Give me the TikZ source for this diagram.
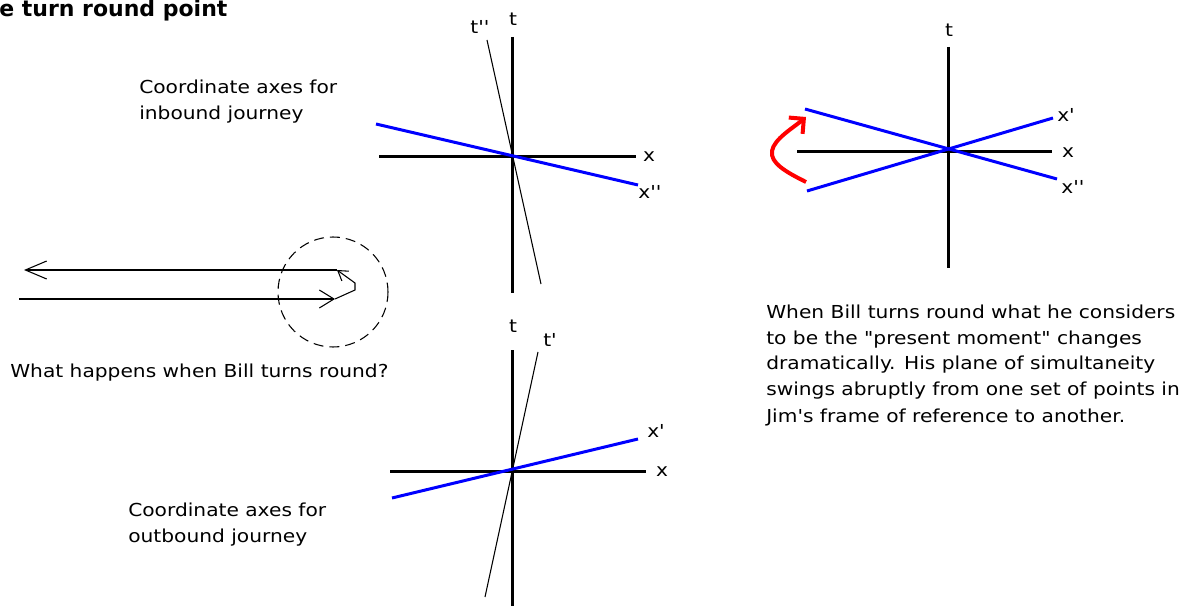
\documentclass[tikz,border=0pt]{standalone}
\usepackage{fontspec}
\usepackage{tikz}
\usetikzlibrary{positioning, arrows.meta, calc}
\newfontfamily\sketchfont[FakeStretch=1.13]{DejaVu Sans}
\newfontfamily\headfont{DejaVu Sans}
\definecolor{planeblue}{HTML}{0000FF}
\definecolor{swingred}{HTML}{FF0000}

\begin{document}
\begin{tikzpicture}[x=0.75pt, y=-0.75pt,
    axis/.style={line width=2.25pt},
    worldline/.style={line width=0.8pt},
    simline/.style={line width=2.25pt, draw=planeblue},
    journey/.style={line width=0.8pt},
    caption/.style={font=\sketchfont\fontsize{13.4}{19.5}\selectfont, align=left, inner sep=0pt, anchor=west},
    axlabel/.style={font=\sketchfont\fontsize{13.4}{15}\selectfont, inner sep=0pt},
    swing/.style={line width=3pt, draw=swingred, -{Straight Barb[length=8pt, width=16pt]}}
]
\useasboundingbox (0,0) rectangle (1193,606);

% Titel (abgeschnitten)
\node[font=\headfont\bfseries\fontsize{16.5}{19}\selectfont, inner sep=0pt, anchor=base west] (title) at (-1,17) {e turn round point};

% Koordinatenachsen, Rueckreise (oben)
\coordinate (Atn) at (512,37);  \coordinate (Ats) at (512,293);
\coordinate (Axw) at (379,157); \coordinate (Axe) at (636,157);
\coordinate (Atpn) at (487,40); \coordinate (Atps) at (541,284);
\coordinate (Axpw) at (376,124); \coordinate (Axpe) at (638,185);
\draw[axis] (Atn) -- (Ats);
\draw[axis] (Axw) -- (Axe);
\draw[worldline] (Atpn) -- (Atps);
\draw[simline] (Axpw) -- (Axpe);
\node[axlabel] (At) at (513,19) {t};
\node[axlabel] (Atp) at (480,27) {t''};
\node[axlabel] (Ax) at (649,157) {x};
\node[axlabel] (Axp) at (650,192) {x''};
\node[caption] (inbound) at (139,102) {Coordinate axes for\\inbound journey};

% Koordinatenachsen, Hinreise (unten)
\coordinate (Btn) at (512,350);  \coordinate (Bts) at (512,606);
\coordinate (Bxw) at (390,471);  \coordinate (Bxe) at (646,471);
\coordinate (Btpn) at (538,352); \coordinate (Btps) at (485,597);
\coordinate (Bxpw) at (392,498); \coordinate (Bxpe) at (638,439);
\draw[axis] (Btn) -- (Bts);
\draw[axis] (Bxw) -- (Bxe);
\draw[worldline] (Btpn) -- (Btps);
\draw[simline] (Bxpw) -- (Bxpe);
\node[axlabel] (Bt) at (513,326) {t};
\node[axlabel] (Btp) at (550,340) {t'};
\node[axlabel] (Bx) at (662,472) {x};
\node[axlabel] (Bxp) at (656,431) {x'};
\node[caption] (outbound) at (128,525) {Coordinate axes for\\outbound journey};

% Reise von Bill mit Umkehrpunkt
\coordinate (Rw) at (24,270);  \coordinate (Re) at (337,270);
\coordinate (Hw) at (19,299);  \coordinate (He) at (335,299);
\coordinate (turnA) at (355,290); \coordinate (turnB) at (355,283);
\coordinate (circ) at (333,292);
\draw[journey, {Straight Barb[length=16pt, width=13.5pt]}-] (Rw) -- (Re);
\draw[journey, -{Straight Barb[length=11pt, width=13.5pt]}] (Hw) -- (He);
\draw[journey, -{Straight Barb[length=7pt, width=9pt]}] (He) -- (turnA) -- (turnB) -- (Re);
\draw[journey, dash pattern=on 7.5pt off 4.5pt] (circ) circle[radius=55];
\node[caption] (question) at (10,373) {What happens when Bill turns round?};

% Gleichzeitigkeitsebenen (rechts)
\coordinate (Ctn) at (948,47);   \coordinate (Cts) at (948,268);
\coordinate (Cxw) at (797,152);  \coordinate (Cxe) at (1052,152);
\coordinate (Cpw) at (807,191);  \coordinate (Cpe) at (1053,118);
\coordinate (Cppw) at (805,109); \coordinate (Cppe) at (1057,179);
\draw[axis] (Ctn) -- (Cts);
\draw[axis] (Cxw) -- (Cxe);
\draw[simline] (Cpw) -- (Cpe);
\draw[simline] (Cppw) -- (Cppe);
\node[axlabel] (Ct) at (949,30) {t};
\node[axlabel] (Cxp) at (1066,115) {x'};
\node[axlabel] (Cx) at (1068,153) {x};
\node[axlabel] (Cxpp) at (1073,187) {x''};

% Sprung der Gleichzeitigkeitsebene
\coordinate (swS) at (806,182);
\coordinate (swM) at (772,151);
\coordinate (swE) at (806,117);
\draw[swing] (swS) .. controls (786,172) and (770,163) .. (swM) .. controls (774,139) and (793,128) .. (swE);

\node[caption] (explain) at (766,365) {When Bill turns round what he considers\\to be the "present moment" changes\\dramatically. His plane of simultaneity\\swings abruptly from one set of points in\\Jim's frame of reference to another.};

\end{tikzpicture}
\end{document}
